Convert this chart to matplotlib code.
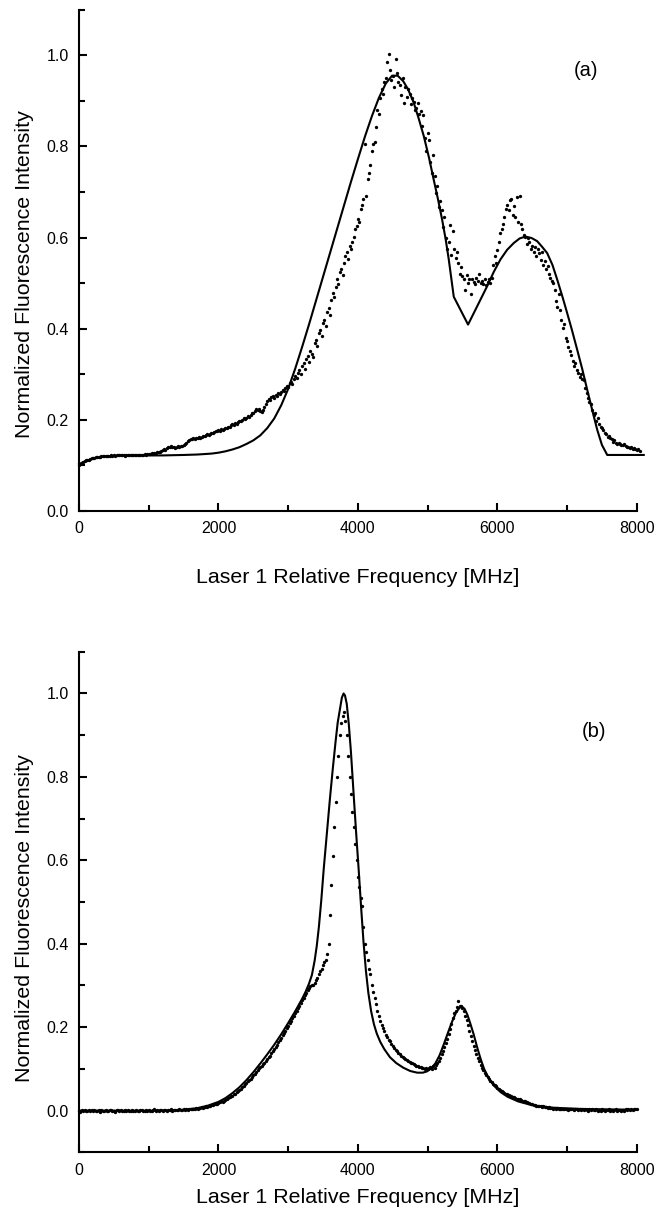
import matplotlib
matplotlib.use("Agg")
import matplotlib.pyplot as plt
import numpy as np
from matplotlib.ticker import MultipleLocator

plt.rcParams['font.family'] = ['Liberation Sans', 'DejaVu Sans']

# ---- panel (a) ----
# measured points, sampled every 20 MHz starting at 0
step_a = 20
dots_a = [
    0.100, 0.103, 0.105, 0.107, 0.109, 0.111, 0.112, 0.113, 0.115, 0.116,
    0.116, 0.117, 0.118, 0.118, 0.119, 0.119, 0.120, 0.120, 0.121, 0.120,
    0.121, 0.121, 0.120, 0.122, 0.121, 0.122, 0.121, 0.122, 0.123, 0.122,
    0.122, 0.123, 0.122, 0.121, 0.123, 0.122, 0.123, 0.122, 0.124, 0.123,
    0.123, 0.122, 0.124, 0.123, 0.122, 0.124, 0.123, 0.125, 0.124, 0.125,
    0.126, 0.125, 0.127, 0.126, 0.128, 0.127, 0.129, 0.130, 0.129, 0.131,
    0.133, 0.135, 0.134, 0.138, 0.141, 0.140, 0.142, 0.140, 0.141, 0.139,
    0.140, 0.142, 0.141, 0.143, 0.142, 0.144, 0.146, 0.150, 0.153, 0.156,
    0.158, 0.157, 0.160, 0.159, 0.161, 0.160, 0.162, 0.161, 0.163, 0.165,
    0.164, 0.166, 0.168, 0.167, 0.170, 0.172, 0.171, 0.174, 0.176, 0.175,
    0.177, 0.176, 0.179, 0.178, 0.181, 0.183, 0.182, 0.185, 0.184, 0.188,
    0.190, 0.189, 0.193, 0.192, 0.196, 0.198, 0.197, 0.200, 0.203, 0.202,
    0.205, 0.208, 0.207, 0.211, 0.214, 0.216, 0.220, 0.223, 0.221, 0.224,
    0.220, 0.217, 0.222, 0.228, 0.235, 0.241, 0.246, 0.243, 0.250, 0.252,
    0.249, 0.255, 0.253, 0.258, 0.256, 0.262, 0.265, 0.263, 0.270, 0.274,
    0.272, 0.280, 0.284, 0.279, 0.290, 0.296, 0.292, 0.303, 0.310, 0.301,
    0.318, 0.325, 0.312, 0.334, 0.340, 0.328, 0.352, 0.345, 0.338, 0.368,
    0.375, 0.362, 0.390, 0.398, 0.385, 0.412, 0.420, 0.405, 0.436, 0.446,
    0.430, 0.462, 0.478, 0.470, 0.492, 0.510, 0.498, 0.525, 0.532, 0.518,
    0.545, 0.560, 0.568, 0.552, 0.581, 0.575, 0.590, 0.602, 0.618, 0.625,
    0.640, 0.635, 0.662, 0.672, 0.684, 0.805, 0.690, 0.728, 0.742, 0.760,
    0.790, 0.805, 0.810, 0.842, 0.880, 0.872, 0.905, 0.925, 0.915, 0.942,
    0.950, 0.985, 1.002, 0.968, 0.945, 0.955, 0.930, 0.992, 0.960, 0.942,
    0.935, 0.912, 0.950, 0.895, 0.930, 0.908, 0.925, 0.915, 0.892, 0.905,
    0.898, 0.880, 0.885, 0.895, 0.870, 0.878, 0.845, 0.868, 0.818, 0.790,
    0.830, 0.815, 0.765, 0.742, 0.780, 0.735, 0.698, 0.712, 0.668, 0.680,
    0.660, 0.622, 0.645, 0.600, 0.575, 0.590, 0.628, 0.562, 0.615, 0.575,
    0.555, 0.568, 0.545, 0.520, 0.535, 0.515, 0.510, 0.485, 0.518, 0.500,
    0.508, 0.475, 0.510, 0.502, 0.498, 0.512, 0.505, 0.520, 0.500, 0.504,
    0.497, 0.510, 0.495, 0.502, 0.508, 0.500, 0.512, 0.540, 0.560, 0.545,
    0.572, 0.590, 0.610, 0.618, 0.630, 0.645, 0.662, 0.672, 0.660, 0.682,
    0.685, 0.650, 0.670, 0.645, 0.688, 0.635, 0.692, 0.630, 0.618, 0.605,
    0.602, 0.585, 0.598, 0.590, 0.575, 0.582, 0.568, 0.579, 0.560, 0.575,
    0.565, 0.550, 0.568, 0.540, 0.548, 0.530, 0.538, 0.520, 0.512, 0.505,
    0.500, 0.485, 0.460, 0.448, 0.475, 0.440, 0.420, 0.402, 0.410, 0.380,
    0.372, 0.360, 0.352, 0.342, 0.330, 0.318, 0.325, 0.310, 0.302, 0.295,
    0.300, 0.290, 0.288, 0.270, 0.260, 0.248, 0.240, 0.235, 0.222, 0.210,
    0.215, 0.198, 0.205, 0.190, 0.185, 0.182, 0.178, 0.172, 0.168, 0.162,
    0.165, 0.160, 0.158, 0.152, 0.155, 0.150, 0.148, 0.150, 0.146, 0.145,
    0.144, 0.146, 0.142, 0.140, 0.141, 0.138, 0.140, 0.136, 0.138, 0.135,
    0.134, 0.136, 0.132,
]

fit_a_x = [0, 100, 200, 300, 500, 800, 1200, 1500, 1700, 1900, 2000, 2100,
           2200, 2300, 2400, 2500, 2600, 2700, 2800, 2900, 3000, 3100, 3200,
           3300, 3400, 3500, 3600, 3700, 3800, 3900, 4000, 4100, 4200, 4300,
           4400, 4490, 4570, 4650, 4720, 4800, 4870, 4944, 5020, 5087, 5150,
           5207, 5260, 5303, 5375, 5580, 5853, 5950, 6045, 6140, 6236, 6320,
           6403, 6490, 6571, 6640, 6714, 6790, 6858, 6930, 7002, 7070, 7145,
           7220, 7289, 7360, 7433, 7500, 7576, 8100]
fit_a_y = [0.103, 0.110, 0.115, 0.118, 0.121, 0.122, 0.122, 0.123, 0.124,
           0.126, 0.128, 0.131, 0.135, 0.140, 0.147, 0.155, 0.166, 0.182,
           0.203, 0.232, 0.268, 0.312, 0.360, 0.410, 0.462, 0.514, 0.566,
           0.618, 0.670, 0.722, 0.772, 0.821, 0.866, 0.906, 0.938, 0.955,
           0.955, 0.943, 0.925, 0.896, 0.862, 0.823, 0.775, 0.727, 0.683,
           0.640, 0.595, 0.552, 0.470, 0.409, 0.493, 0.525, 0.552, 0.573,
           0.588, 0.598, 0.602, 0.599, 0.592, 0.580, 0.566, 0.540, 0.508,
           0.472, 0.434, 0.397, 0.354, 0.310, 0.266, 0.222, 0.178, 0.145,
           0.123, 0.123]

# ---- panel (b) ----
step_b = 20
dots_b = [
    0.000, -0.003, 0.002, -0.001, 0.001, -0.002, 0.000, 0.002, -0.002, 0.001,
    -0.001, 0.002, -0.002, 0.000, 0.001, -0.003, 0.002, 0.000, -0.001, 0.002,
    0.000, -0.002, 0.001, 0.002, -0.001, 0.000, -0.003, 0.001, 0.002, -0.001,
    0.001, 0.000, -0.002, 0.002, -0.001, 0.001, 0.000, -0.002, 0.002, 0.000,
    -0.001, 0.002, 0.000, -0.002, 0.001, 0.002, -0.001, 0.000, 0.001, -0.002,
    0.002, 0.000, -0.001, 0.001, 0.003, -0.001, 0.001, 0.000, 0.002, 0.001,
    0.000, 0.002, 0.001, -0.001, 0.002, 0.001, 0.003, 0.000, 0.002, 0.001,
    0.002, 0.001, 0.003, 0.001, 0.002, 0.004, 0.002, 0.003, 0.001, 0.004,
    0.003, 0.005, 0.004, 0.003, 0.006, 0.005, 0.007, 0.006, 0.008, 0.007,
    0.008, 0.010, 0.009, 0.011, 0.012, 0.014, 0.013, 0.015, 0.017, 0.016,
    0.018, 0.020, 0.022, 0.021, 0.024, 0.026, 0.028, 0.030, 0.032, 0.034,
    0.036, 0.039, 0.041, 0.044, 0.047, 0.050, 0.053, 0.056, 0.060, 0.063,
    0.066, 0.070, 0.073, 0.077, 0.081, 0.085, 0.089, 0.093, 0.097, 0.101,
    0.104, 0.108, 0.111, 0.115, 0.119, 0.123, 0.128, 0.132, 0.137, 0.142,
    0.148, 0.153, 0.158, 0.164, 0.170, 0.175, 0.181, 0.187, 0.192, 0.198,
    0.204, 0.210, 0.216, 0.222, 0.228, 0.234, 0.240, 0.246, 0.252, 0.258,
    0.264, 0.270, 0.276, 0.282, 0.288, 0.293, 0.298, 0.302, 0.300, 0.306,
    0.312, 0.318, 0.328, 0.335, 0.340, 0.348, 0.356, 0.362, 0.375, 0.400,
    0.470, 0.540, 0.610, 0.680, 0.740, 0.800, 0.850, 0.900, 0.930, 0.945,
    0.955, 0.935, 0.900, 0.850, 0.800, 0.760, 0.715, 0.680, 0.640, 0.600,
    0.560, 0.535, 0.510, 0.490, 0.440, 0.400, 0.380, 0.360, 0.340, 0.328,
    0.300, 0.285, 0.270, 0.255, 0.240, 0.228, 0.215, 0.205, 0.198, 0.190,
    0.182, 0.176, 0.170, 0.166, 0.160, 0.155, 0.150, 0.146, 0.142, 0.138,
    0.135, 0.132, 0.128, 0.126, 0.124, 0.121, 0.118, 0.116, 0.115, 0.113,
    0.112, 0.110, 0.108, 0.107, 0.105, 0.104, 0.102, 0.101, 0.100, 0.102,
    0.099, 0.101, 0.104, 0.100, 0.106, 0.103, 0.110, 0.115, 0.120, 0.127,
    0.135, 0.143, 0.152, 0.162, 0.172, 0.183, 0.195, 0.208, 0.222, 0.235,
    0.240, 0.248, 0.262, 0.252, 0.250, 0.245, 0.238, 0.228, 0.218, 0.205,
    0.192, 0.180, 0.168, 0.156, 0.145, 0.135, 0.126, 0.118, 0.110, 0.103,
    0.097, 0.091, 0.086, 0.081, 0.076, 0.072, 0.068, 0.064, 0.061, 0.058,
    0.055, 0.052, 0.050, 0.047, 0.045, 0.043, 0.041, 0.039, 0.038, 0.036,
    0.035, 0.033, 0.032, 0.030, 0.029, 0.028, 0.027, 0.026, 0.024, 0.023,
    0.022, 0.020, 0.019, 0.018, 0.016, 0.015, 0.014, 0.013, 0.012, 0.012,
    0.011, 0.010, 0.009, 0.010, 0.008, 0.008, 0.007, 0.008, 0.006, 0.007,
    0.005, 0.006, 0.004, 0.006, 0.005, 0.003, 0.005, 0.004, 0.003, 0.005,
    0.004, 0.002, 0.004, 0.003, 0.005, 0.002, 0.003, 0.004, 0.001, 0.003,
    0.002, 0.004, 0.001, 0.003, 0.002, 0.000, 0.003, 0.001, 0.004, 0.002,
    0.001, 0.003, -0.001, 0.002, 0.000, 0.003, 0.001, -0.002, 0.002, 0.001,
    0.003, 0.000, 0.002, -0.001, 0.001, 0.003, -0.002, 0.001, 0.002, 0.000,
    0.002, -0.001, 0.003, 0.001, 0.004, 0.002, 0.003, 0.001, 0.004, 0.003,
    0.003,
]

fit_b_x = [0, 1200, 1500, 1700, 1850, 2000, 2100, 2200, 2300, 2400, 2500,
           2600, 2700, 2800, 2900, 3000, 3100, 3200, 3250, 3300, 3340, 3380,
           3410, 3440, 3475, 3510, 3555, 3600, 3640, 3680, 3710, 3740, 3770,
           3795, 3815, 3840, 3870, 3900, 3940, 3975, 4010, 4045, 4080, 4115,
           4150, 4190, 4230, 4270, 4320, 4380, 4460, 4550, 4650, 4750, 4850,
           4930, 4990, 5050, 5110, 5170, 5230, 5290, 5350, 5410, 5460, 5495,
           5530, 5570, 5610, 5660, 5710, 5760, 5810, 5870, 5950, 6050, 6150,
           6300, 6500, 6800, 7200, 8000]
fit_b_y = [0.000, 0.000, 0.002, 0.006, 0.012, 0.021, 0.030, 0.042, 0.056,
           0.073, 0.092, 0.113, 0.135, 0.158, 0.183, 0.210, 0.238, 0.268,
           0.285, 0.305, 0.325, 0.360, 0.395, 0.440, 0.505, 0.580, 0.665,
           0.750, 0.820, 0.885, 0.930, 0.960, 0.990, 1.000, 0.995, 0.975,
           0.925, 0.860, 0.755, 0.665, 0.580, 0.490, 0.405, 0.335, 0.282,
           0.238, 0.207, 0.185, 0.165, 0.147, 0.128, 0.114, 0.103, 0.095,
           0.091, 0.091, 0.094, 0.101, 0.113, 0.132, 0.158, 0.186, 0.213,
           0.236, 0.247, 0.249, 0.244, 0.230, 0.210, 0.183, 0.152, 0.124,
           0.100, 0.080, 0.060, 0.044, 0.033, 0.022, 0.013, 0.007, 0.004,
           0.002]

xlabel = 'Laser 1 Relative Frequency [MHz]'
ylabel = 'Normalized Fluorescence Intensity'


def style(ax, ymin, ymax):
    ax.set_xlim(0, 8000)
    ax.set_ylim(ymin, ymax)
    ax.spines['top'].set_visible(False)
    ax.spines['right'].set_visible(False)
    for s in ('left', 'bottom'):
        ax.spines[s].set_linewidth(1.5)
    ax.xaxis.set_major_locator(MultipleLocator(2000))
    ax.xaxis.set_minor_locator(MultipleLocator(1000))
    ax.yaxis.set_major_locator(MultipleLocator(0.2))
    ax.yaxis.set_minor_locator(MultipleLocator(0.1))
    ax.yaxis.set_major_formatter(matplotlib.ticker.FormatStrFormatter('%.1f'))
    ax.tick_params(which='major', direction='in', length=6, width=1.5,
                   labelsize=11.5, pad=7.5)
    ax.tick_params(which='minor', direction='in', length=4, width=1.5)
    ax.tick_params(top=False, right=False, which='both')
    ax.set_xlabel(xlabel, fontsize=15.4)
    ax.set_ylabel(ylabel, fontsize=15.4)


fig = plt.figure(figsize=(6.72, 12.13), dpi=100)
ax1 = fig.add_axes([0.1176, 0.5787, 0.830, 0.4134])
ax2 = fig.add_axes([0.1176, 0.0500, 0.830, 0.4127])

xa = np.arange(len(dots_a)) * step_a
ax1.plot(xa, dots_a, 'o', ms=2.4, mew=0, color='black', clip_on=False)
ax1.plot(fit_a_x, fit_a_y, '-', lw=1.5, color='black', clip_on=False)
style(ax1, 0.0, 1.1)
ax1.text(7265, 0.967, '(a)', fontsize=14.5, ha='center', va='center')
ax1.xaxis.set_label_coords(0.5, -0.1316)
ax1.xaxis.label.set_va('center')
ax1.yaxis.set_label_coords(-0.0986, 0.4726)
ax1.yaxis.label.set_va('center')

xb = np.arange(len(dots_b)) * step_b
ax2.plot(xb, dots_b, 'o', ms=2.4, mew=0, color='black', clip_on=False)
ax2.plot(fit_b_x, fit_b_y, '-', lw=1.5, color='black', clip_on=False)
style(ax2, -0.1, 1.1)
ax2.text(7380, 0.910, '(b)', fontsize=14.5, ha='center', va='center')
ax2.xaxis.set_label_coords(0.5, -0.0893)
ax2.xaxis.label.set_va('center')
ax2.yaxis.set_label_coords(-0.0986, 0.4686)
ax2.yaxis.label.set_va('center')

fig.savefig('out.png', dpi=100)
